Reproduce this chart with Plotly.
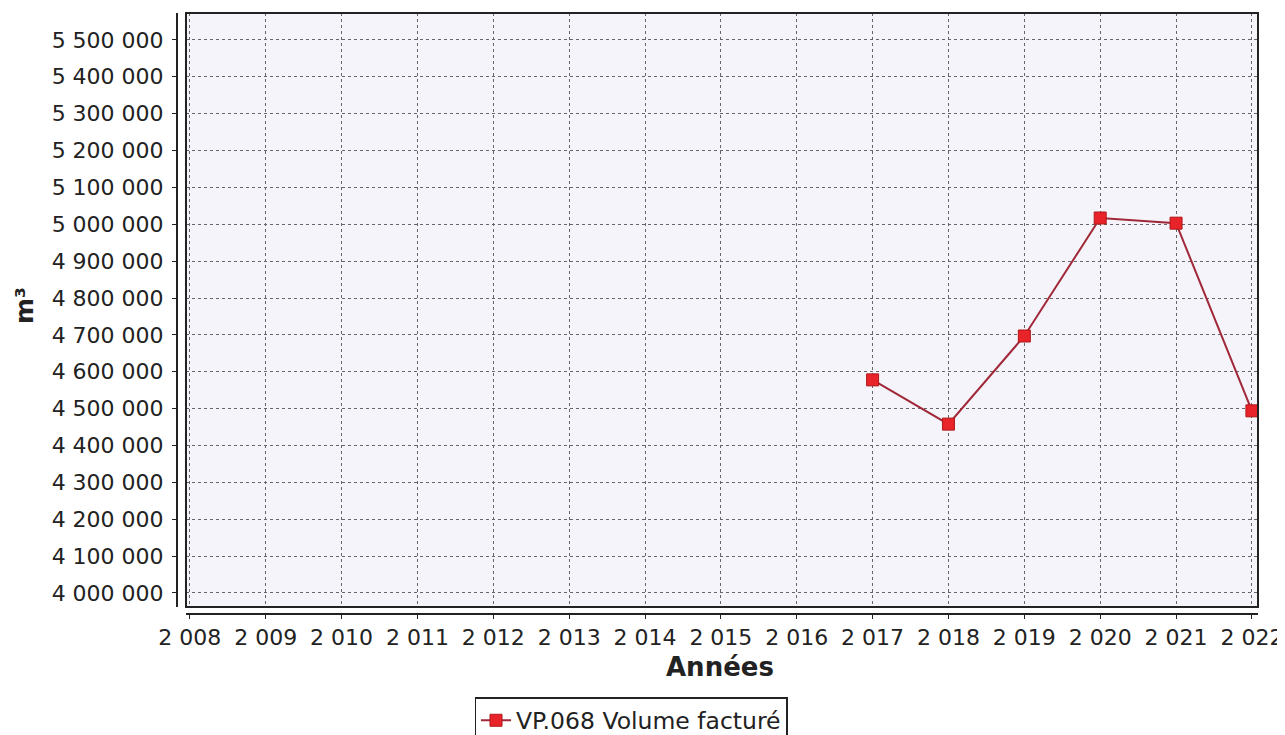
import plotly.graph_objects as go

years = [2017, 2018, 2019, 2020, 2021, 2022]
volumes = [4578000, 4458000, 4697000, 5017000, 5003000, 4494000]
series_name = "VP.068 Volume facturé"
x_title = "Années"
y_title = "m³"
x_ticks = list(range(2008, 2023))
y_ticks = list(range(4000000, 5500001, 100000))

FONT = "DejaVu Sans"
OFF = 8  # default page body margin
W, H = 1285 - OFF, 735 - OFF
# reference pixel geometry (page coords)
AX_Y_LINE, PLOT_R, PLOT_T, AX_X_LINE = 177, 1258, 13, 614
L = AX_Y_LINE - OFF
T = PLOT_T - OFF
R = 1285 - PLOT_R
B = 735 - AX_X_LINE
pw = W - L - R
ph = H - T - B
dx = 9 / pw
dy = 7 / ph


def px_x(x):
    return (x - AX_Y_LINE) / pw


def px_y(y):
    return (AX_X_LINE - y) / ph


fig = go.Figure()
fig.add_trace(go.Scatter(
    x=years, y=volumes, mode="lines+markers", name=series_name,
    line=dict(color="#a02838", width=2),
    marker=dict(symbol="square", size=12, color="#e8232a", line=dict(color="#b01818", width=1)),
))

axis_common = dict(anchor="free", position=0, showline=True, linecolor="#222", linewidth=2,
                   ticks="outside", ticklen=4, tickcolor="#222", tickformat=",d",
                   showgrid=True, gridcolor="#666", griddash="3px,3px", gridwidth=1, zeroline=False,
                   tickfont=dict(size=22, color="#222"))

fig.update_layout(
    width=W, height=H,
    margin=dict(l=L, r=R, t=T, b=B, autoexpand=False),
    paper_bgcolor="white", plot_bgcolor="#f4f4fa",
    separators=", ",
    font=dict(family=FONT, size=22, color="#222"),
    showlegend=True,
    legend=dict(xref="container", yref="container", x=(631 - OFF) / W, y=38 / H,
                xanchor="center", yanchor="top",
                orientation="h", bordercolor="#222", borderwidth=1.5, bgcolor="white",
                font=dict(size=23.5)),
    xaxis=dict(domain=[dx, 1], range=[2007.95, 2022.08], tickvals=x_ticks, **axis_common),
    yaxis=dict(domain=[dy, 1], range=[3962000, 5573000], tickvals=y_ticks,
               ticklabelstandoff=4, **axis_common),
    shapes=[dict(type="rect", xref="paper", yref="paper", x0=dx, x1=1, y0=dy, y1=1,
                 line=dict(color="#222", width=2), fillcolor="rgba(0,0,0,0)", layer="above")],
    annotations=[
        dict(text="<b>" + x_title + "</b>", xref="paper", yref="paper", x=px_x(720), y=px_y(667),
             showarrow=False, font=dict(size=26), xanchor="center", yanchor="middle"),
        dict(text="<b>" + y_title + "</b>", xref="paper", yref="paper", x=px_x(24), y=px_y(306),
             showarrow=False, font=dict(size=25), textangle=-90, xanchor="center", yanchor="middle"),
    ],
)

fig.write_html("out.html")
